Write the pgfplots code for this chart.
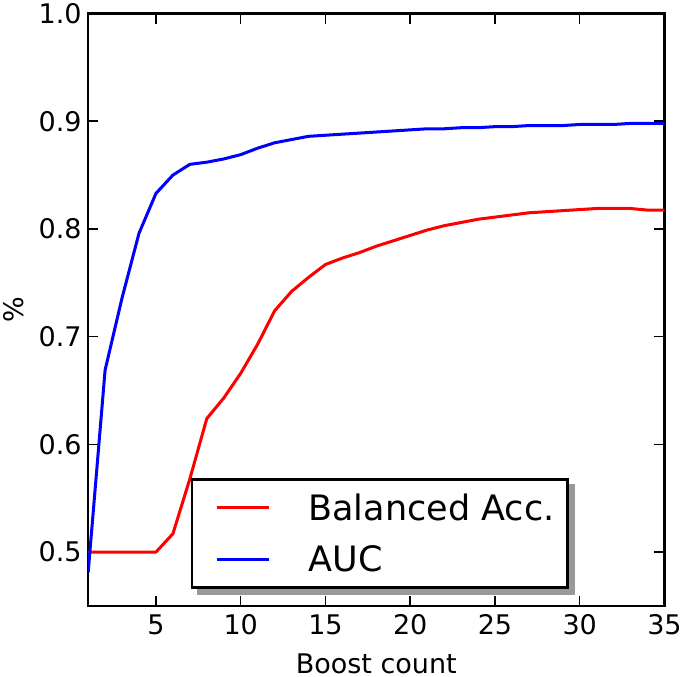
\documentclass[border=0pt]{standalone}
\usepackage{pgfplots}
\pgfplotsset{compat=1.18}
\usepackage{fontspec}
\setmainfont{DejaVu Sans}
\usetikzlibrary{backgrounds}

\begin{document}
\begin{tikzpicture}
  \begin{axis}[
    scale only axis,
    width=574bp, height=590bp,
    xmin=1, xmax=35, ymin=0.45, ymax=1.0,
    xtick={5,10,15,20,25,30,35},
    ytick={0.5,0.6,0.7,0.8,0.9,1.0},
    /pgf/number format/assume math mode=true,
    tick label style={font=\fontsize{27}{32}\selectfont},
    label style={font=\fontsize{27}{32}\selectfont},
    yticklabel style={xshift=-3bp, /pgf/number format/.cd, fixed, fixed zerofill, precision=1},
    xticklabel style={yshift=-5bp},
    xlabel={Boost count}, ylabel={\%},
    xlabel style={inner xsep=0pt, inner ysep=3bp, yshift=-12bp},
    ylabel style={yshift=8bp},
    axis line style={line width=2.5bp},
    tick style={line width=1.5bp, black},
    major tick length=10bp,
    tick align=inside,
    legend style={name=leg, at={(0.178,0.029)}, anchor=south west, draw=black,
      line width=2.5bp, fill=white,
      font=\fontsize{35}{42}\selectfont,
      inner xsep=11bp, inner ysep=12bp,
      row sep=20bp,
      cells={anchor=west},
      /tikz/every odd column/.append style={column sep=36bp}},
    legend image code/.code={\path (0bp,0bp); \draw[#1] (12bp,0bp) -- (64bp,0bp);},
    every axis plot/.append style={line width=3bp, line join=round},
  ]
    % Balanced accuracy
    \addplot[red] coordinates {
      (1,0.500) (2,0.500) (3,0.500) (4,0.500) (5,0.500)
      (6,0.517) (7,0.568) (8,0.624) (9,0.643) (10,0.666)
      (11,0.693) (12,0.724) (13,0.742) (14,0.755) (15,0.767)
      (16,0.773) (17,0.778) (18,0.784) (19,0.789) (20,0.794)
      (21,0.799) (22,0.803) (23,0.806) (24,0.809) (25,0.811)
      (26,0.813) (27,0.815) (28,0.816) (29,0.817) (30,0.818)
      (31,0.819) (32,0.819) (33,0.819) (34,0.8175) (35,0.8175)
    };
    \addlegendentry{Balanced Acc.}
    % AUC
    \addplot[blue] coordinates {
      (1,0.481) (2,0.669) (3,0.736) (4,0.796) (5,0.833)
      (6,0.850) (7,0.860) (8,0.862) (9,0.865) (10,0.869)
      (11,0.875) (12,0.880) (13,0.883) (14,0.886) (15,0.887)
      (16,0.888) (17,0.889) (18,0.890) (19,0.891) (20,0.892)
      (21,0.893) (22,0.893) (23,0.894) (24,0.894) (25,0.895)
      (26,0.895) (27,0.896) (28,0.896) (29,0.896) (30,0.897)
      (31,0.897) (32,0.897) (33,0.898) (34,0.898) (35,0.898)
    };
    \addlegendentry{AUC}
  \end{axis}
  % legend shadow
  \begin{scope}[on background layer]
    \fill[black!40] ([shift={(6bp,-6bp)}]leg.south west) rectangle ([shift={(6bp,-6bp)}]leg.north east);
  \end{scope}
\end{tikzpicture}
\end{document}
